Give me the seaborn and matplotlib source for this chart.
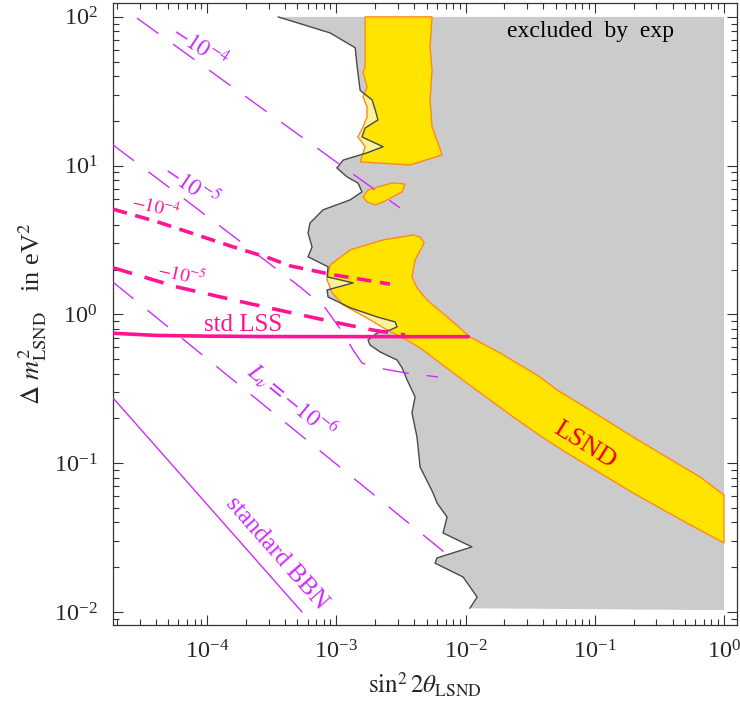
import numpy as np
import matplotlib
matplotlib.use("Agg")
import matplotlib.pyplot as plt
import seaborn as sns
from matplotlib.patches import Polygon

# region excluded by other experiments: left boundary, top to bottom
excl_x = [3.54e-4, 8.95e-4, 1.40e-3, 1.45e-3, 1.53e-3, 1.89e-3, 2.0e-3, 2.10e-3, 1.67e-3, 1.58e-3,
          2.30e-3, 1.73e-3, 1.13e-3, 1.01e-3, 1.21e-3, 1.47e-3, 1.58e-3, 1.28e-3, 7.9e-4, 6.26e-4,
          6.04e-4, 6.49e-4, 6.04e-4, 8.63e-4, 8.48e-4, 1.35e-3, 8.48e-4, 8.63e-4, 1.28e-3, 2.07e-3,
          2.85e-3, 2.95e-3, 2.61e-3, 2.07e-3, 1.76e-3, 1.82e-3, 2.18e-3, 2.95e-3, 3.23e-3, 3.53e-3,
          4.07e-3, 3.85e-3, 4.21e-3, 4.45e-3, 4.86e-3, 5.61e-3, 6.01e-3, 7.19e-3, 6.70e-3, 0.0112,
          6.01e-3, 5.81e-3, 9.57e-3, 0.0123, 0.0108]
excl_y = [100, 78, 62, 46, 32, 27.7, 23.7, 20.3, 17.9, 15.6,
          13.4, 12.2, 10.9, 9.66, 8.4, 7.65, 6.67, 5.89, 5.05, 4.12,
          3.53, 2.84, 2.44, 2.09, 1.79, 1.63, 1.46, 1.31, 1.11, 0.962,
          0.891, 0.825, 0.787, 0.751, 0.674, 0.624, 0.560, 0.494, 0.437, 0.363,
          0.279, 0.218, 0.150, 0.0944, 0.0809, 0.0631, 0.0541, 0.0435, 0.034, 0.0274,
          0.0231, 0.0213, 0.0172, 0.0126, 0.0106]
excl_right = 1.0
excl_bottom = 0.0103
excl_top = 100

# LSND allowed regions
lsnd_top_x = [1.67e-3, 1.67e-3, 1.61e-3, 1.73e-3, 1.61e-3, 1.73e-3, 1.73e-3, 1.61e-3, 1.47e-3, 1.67e-3,
              1.58e-3, 1.53e-3, 2.18e-3, 3.72e-3, 6.58e-3, 6.12e-3, 5.51e-3, 5.31e-3, 5.51e-3, 5.31e-3, 5.51e-3]
lsnd_top_y = [100, 46, 42.7, 33.8, 29.0, 24.8, 21.3, 18.2, 15.6, 13.4,
              11.5, 10.6, 10.4, 10.1, 11.8, 14.2, 18.2, 27.7, 44, 62.8, 100]
lsnd_mid_x = [1.61e-3, 1.76e-3, 2.70e-3, 3.40e-3, 3.23e-3, 2.30e-3, 2.0e-3, 1.73e-3]
lsnd_mid_y = [6.17, 6.87, 7.65, 7.53, 6.67, 5.70, 5.45, 5.70]
lsnd_low_x = [8.95e-4, 1.28e-3, 2.30e-3, 3.93e-3, 4.45e-3, 4.78e-3, 4.07e-3, 3.85e-3, 4.21e-3, 5.04e-3,
              8.0e-3, 0.0108, 0.0185, 0.0377, 0.0510, 0.0919, 0.198, 0.652, 1.0, 1.0,
              0.517, 0.198, 0.061, 0.0391, 0.0233, 9.06e-3, 6.35e-3, 4.45e-3, 3.28e-3, 2.47e-3,
              1.73e-3, 1.13e-3, 9.27e-4, 8.48e-4]
lsnd_low_y = [2.15, 2.72, 3.17, 3.42, 3.32, 3.03, 2.32, 1.79, 1.51, 1.25,
              0.891, 0.706, 0.551, 0.380, 0.311, 0.228, 0.150, 0.0809, 0.0612, 0.0291,
              0.0396, 0.0631, 0.117, 0.150, 0.205, 0.374, 0.472, 0.596, 0.695, 0.787,
              0.946, 1.16, 1.40, 1.71]

# BBN curves (violet)
bbn_x = [1.87e-5, 5.43e-4]
bbn_y = [0.275, 0.01]
bbn4_x = [2.87e-5, 3.11e-3]
bbn4_y = [98, 5.2]
bbn5_x = [1.87e-5, 5.25e-4, 8.18e-4, 1.13e-3, 1.35e-3, 1.58e-3, 1.89e-3, 3.40e-3, 6.12e-3]
bbn5_y = [13.8, 1.53, 1.11, 0.751, 0.576, 0.472, 0.444, 0.405, 0.380]
bbn6_x = [1.87e-5, 7.32e-3]
bbn6_y = [1.65, 0.0241]

# LSS curves (pink)
lss_x = [1.87e-5, 4e-5, 1e-4, 3e-4, 0.0105]
lss_y = [0.748, 0.723, 0.715, 0.71, 0.709]
lss4_x = [1.87e-5, 4.1e-5, 1.6e-4, 3.0e-4, 4.4e-4, 9.4e-4, 2.6e-3]
lss4_y = [5.1, 4.2, 2.84, 2.40, 2.12, 1.85, 1.6]
lss5_x = [1.87e-5, 5.86e-5, 1.90e-4, 4.63e-4, 1.03e-3, 1.89e-3, 3.40e-3]
lss5_y = [2.06, 1.53, 1.21, 1.02, 0.877, 0.787, 0.728]

GRAY = "#cbcbcb"
YELLOW = "#ffe400"
PALE = "#fff29a"
ORANGE = "#ff8a1c"
VIOLET = "#cc2cff"
PINK = "#ff1493"

sns.set_theme(style="ticks")
plt.rcParams['font.family'] = ['Liberation Serif', 'DejaVu Serif']
plt.rcParams['mathtext.fontset'] = 'stix'

fig = plt.figure(figsize=(7.4, 7.06), dpi=100)
ax = fig.add_axes([0.1527, 0.1147, 0.8432, 0.8811])
ax.set_xscale('log')
ax.set_yscale('log')

# excluded region
gx = list(excl_x) + [excl_right, excl_right]
gy = list(excl_y) + [excl_bottom, excl_top]
gray = Polygon(np.column_stack([gx, gy]), closed=True, facecolor=GRAY, edgecolor='none', zorder=1)
ax.add_patch(gray)

# LSND: pale outside the excluded region, bright inside
for xs, ys in [(lsnd_top_x, lsnd_top_y), (lsnd_mid_x, lsnd_mid_y), (lsnd_low_x, lsnd_low_y)]:
    pts = np.column_stack([xs, ys])
    ax.add_patch(Polygon(pts, closed=True, facecolor=PALE, edgecolor='none', zorder=2))
    bright = Polygon(pts, closed=True, facecolor=YELLOW, edgecolor='none', zorder=3)
    ax.add_patch(bright)
    bright.set_clip_path(gray)
    ax.add_patch(Polygon(pts, closed=True, facecolor='none', edgecolor=ORANGE, lw=1.0, zorder=4))

sns.lineplot(x=excl_x, y=excl_y, sort=False, estimator=None, color='#4a4a4a', lw=1.0, ax=ax, zorder=5)

# BBN lines
sns.lineplot(x=bbn_x, y=bbn_y, sort=False, estimator=None, color=VIOLET, lw=1.0, ax=ax, zorder=6)
for xs, ys in [(bbn4_x, bbn4_y), (bbn5_x, bbn5_y), (bbn6_x, bbn6_y)]:
    sns.lineplot(x=xs, y=ys, sort=False, estimator=None, color=VIOLET, lw=1.0,
                 linestyle=(0, (19, 13)), ax=ax, zorder=6)

# LSS lines
sns.lineplot(x=lss_x, y=lss_y, sort=False, estimator=None, color=PINK, lw=2.6, ax=ax, zorder=7)
sns.lineplot(x=lss4_x, y=lss4_y, sort=False, estimator=None, color=PINK, lw=2.6,
             linestyle=(0, (4.0, 2.4)), ax=ax, zorder=7)
sns.lineplot(x=lss5_x, y=lss5_y, sort=False, estimator=None, color=PINK, lw=2.6,
             linestyle=(0, (5.5, 3.6)), ax=ax, zorder=7)

ax.set_xlim(1.87e-5, 1.26)
ax.set_ylim(0.00818, 124)

# labels on the plot
kw = dict(ha='center', va='center', rotation_mode='anchor', zorder=8)
ax.text(0.092, 80, "excluded  by  exp", fontsize=17, color='black', **kw)
ax.text(8.8e-5, 62.8, r"$\mathit{-10^{-4}}$", fontsize=17, color=VIOLET, rotation=-33, **kw)
ax.text(7.5e-5, 7.43, r"$\mathit{-10^{-5}}$", fontsize=17, color=VIOLET, rotation=-34, **kw)
ax.text(4.03e-5, 5.2, r"$\mathit{-10^{-4}}$", fontsize=13.5, color=PINK, rotation=-13, **kw)
ax.text(6.4e-5, 1.87, r"$\mathit{-10^{-5}}$", fontsize=13.5, color=PINK, rotation=-13, **kw)
ax.text(1.9e-4, 0.85, "std LSS", fontsize=18, color=PINK, **kw)
ax.text(4.55e-4, 0.266, r"$L_\nu=-10^{-6}$", fontsize=17, color=VIOLET, rotation=-39, **kw)
ax.text(3.42e-4, 0.0249, "standard BBN", fontsize=18, color=VIOLET, rotation=-48.5, **kw)
ax.text(0.084, 0.133, "LSND", fontsize=19, color='#ee0000', rotation=-32, **kw)

ax.set_xlabel(r"$\sin^2 2\theta_{\mathrm{LSND}}$", fontsize=18, labelpad=5)
ax.set_ylabel(r"$\Delta\ m^2_{\mathrm{LSND}}$   in eV$^2$", fontsize=19, labelpad=4)

ax.tick_params(which='both', direction='in', top=True, right=True, color='#333333', width=0.8)
ax.tick_params(which='major', length=7, labelsize=17.5)
ax.tick_params(axis='x', which='major', pad=11)
ax.tick_params(axis='y', which='major', pad=11)
ax.tick_params(which='minor', length=4)
for s in ax.spines.values():
    s.set_color('#333333')
    s.set_linewidth(0.9)

fig.savefig("out.png", dpi=100)
